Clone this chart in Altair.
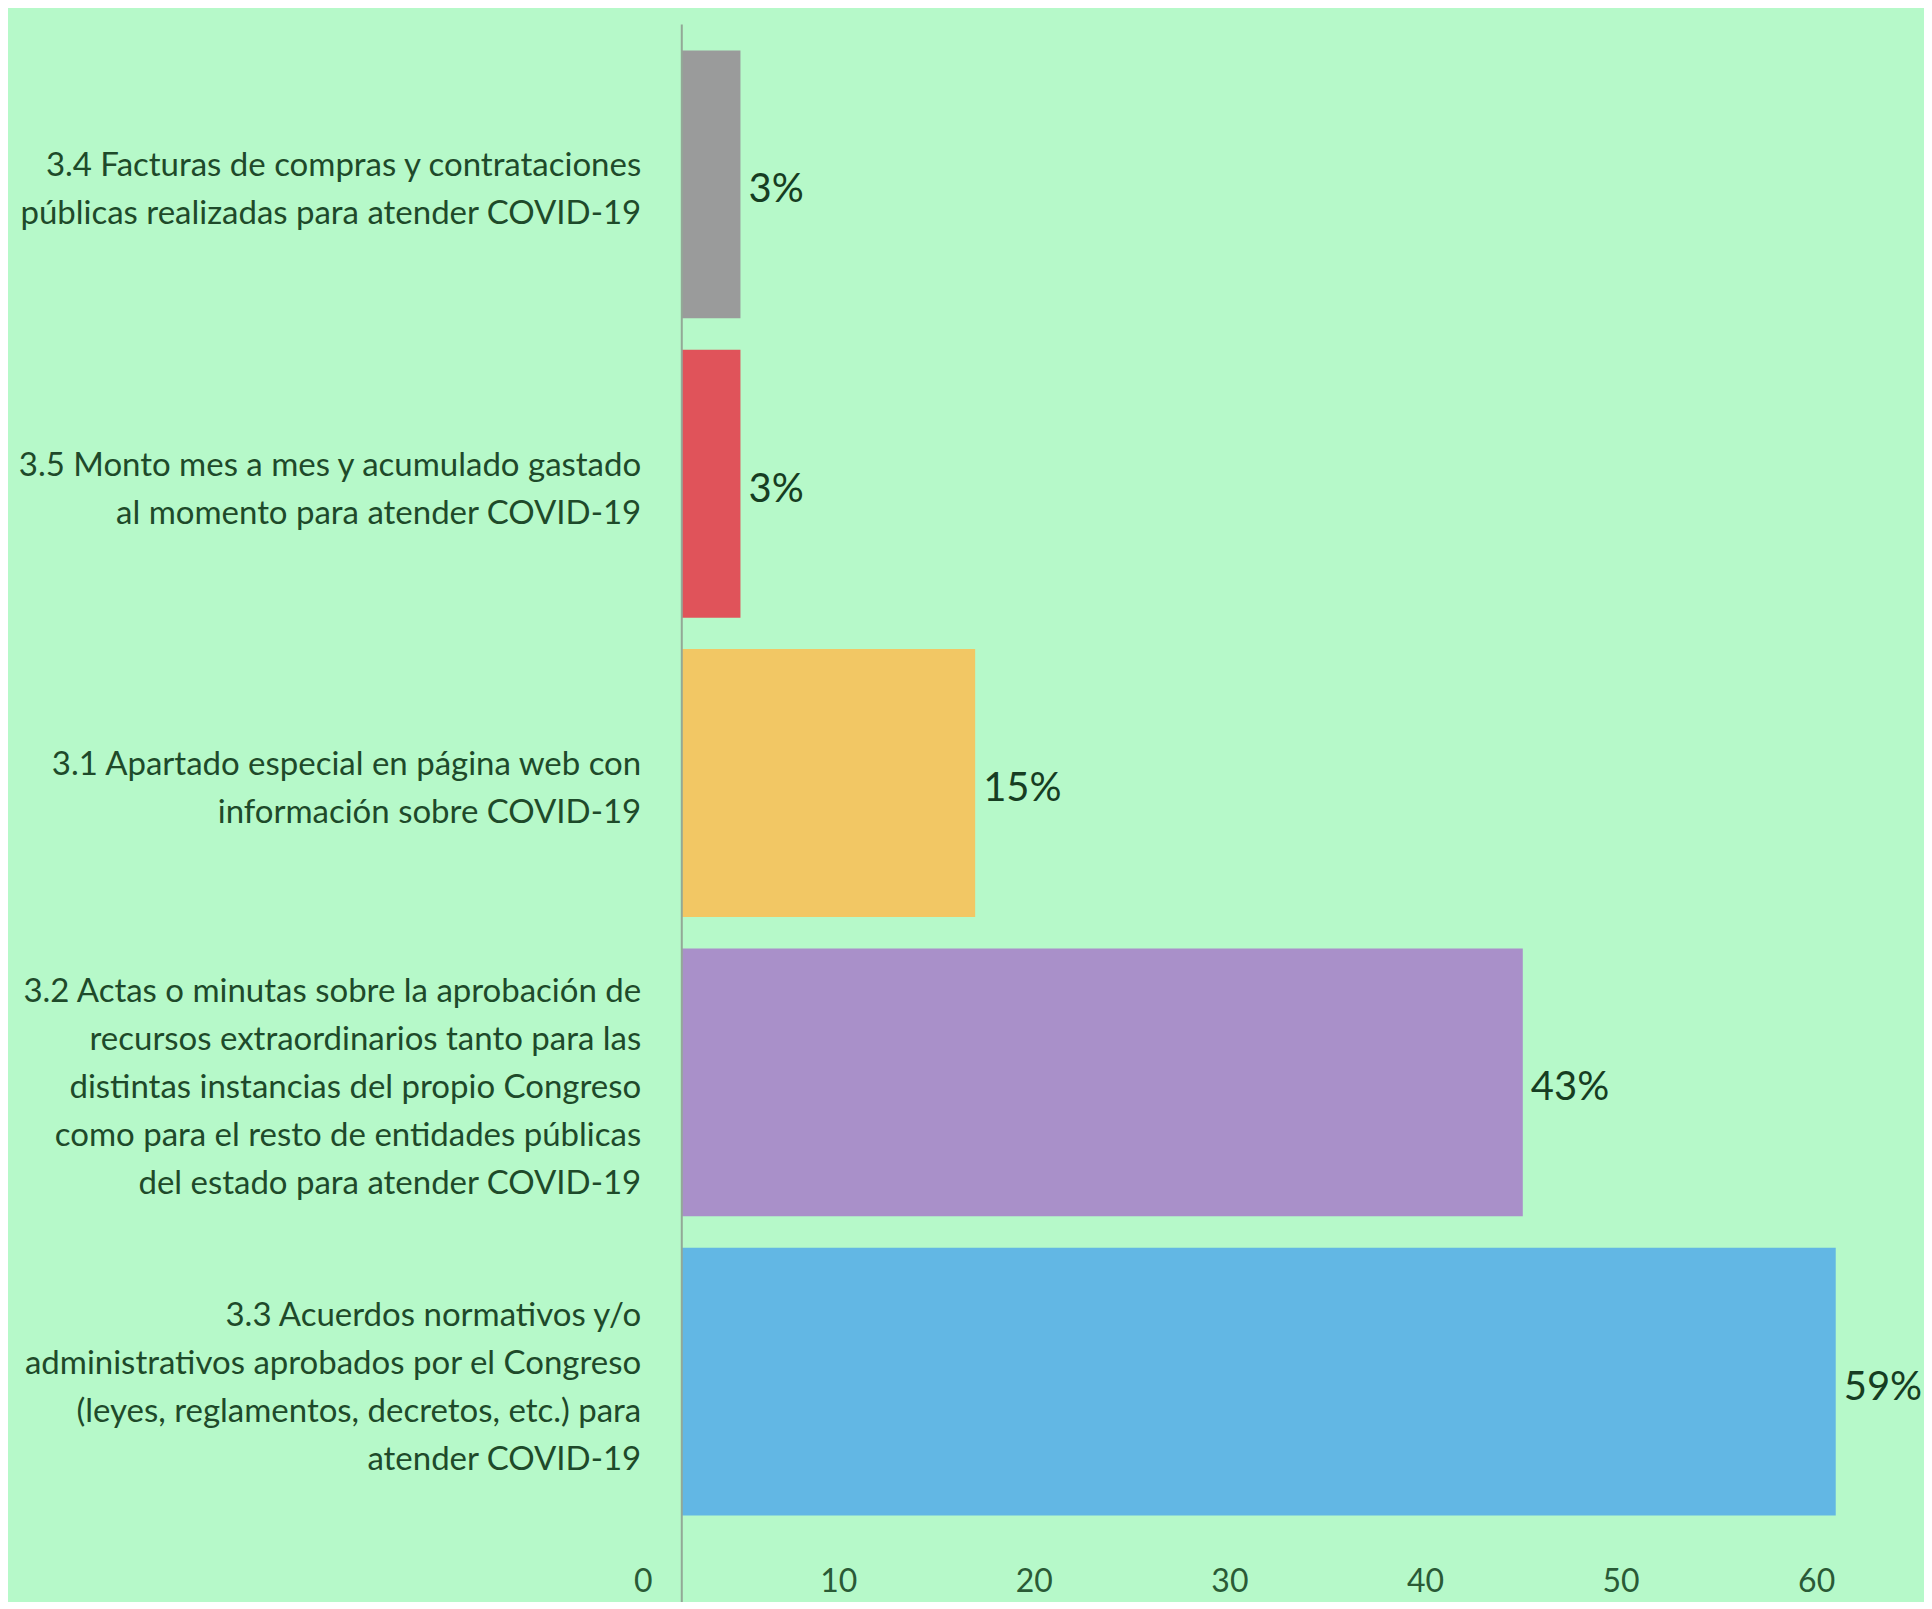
import altair as alt
import pandas as pd

categories = [
    "3.4 Facturas de compras y contrataciones|públicas realizadas para atender COVID-19",
    "3.5 Monto mes a mes y acumulado gastado|al momento para atender COVID-19",
    "3.1 Apartado especial en página web con|información sobre COVID-19",
    "3.2 Actas o minutas sobre la aprobación de|recursos extraordinarios tanto para las|distintas instancias del propio Congreso|como para el resto de entidades públicas|del estado para atender COVID-19",
    "3.3 Acuerdos normativos y/o|administrativos aprobados por el Congreso|(leyes, reglamentos, decretos, etc.) para\u00a0|atender COVID-19",
]
values = [3, 3, 15, 43, 59]
bar_colors = ["#9a9b9b", "#e0535a", "#f2c764", "#a990c9", "#62b7e4"]
tick_values = [-2, 8, 18, 28, 38, 48, 58]

df = pd.DataFrame({
    "cat": categories,
    "value": values,
    "pct": [f"{v}%" for v in values],
})

FONT = "Lato"
BG = "#b6f9c9"
LINE_H = 48

xscale = alt.Scale(domain=[-2, 62.9], nice=False, zero=False)
yscale = alt.Scale(domain=categories, paddingInner=0.105, paddingOuter=0.087)

y_axis = alt.Axis(
    title=None,
    domain=False,
    ticks=False,
    grid=False,
    labelExpr="split(datum.label, '|')",
    labelFont=FONT,
    labelFontSize=33,
    labelColor="#1e4a2a",
    labelLineHeight=LINE_H,
    labelPadding=2,
    labelLimit=1000,
    labelAlign="right",
    labelOffset={"expr": f"6 - (length(split(datum.value, '|')) - 1) * {LINE_H / 2}"},
)
x_axis = alt.Axis(
    title=None,
    values=tick_values,
    labelExpr="format(datum.value + 2, 'd')",
    domain=False,
    ticks=False,
    grid=False,
    labelFont=FONT,
    labelFontSize=32,
    labelColor="#2a5a36",
    labelPadding=25,
    labelFlush=False,
    labelOverlap=False,
)

y_enc = alt.Y("cat:N", sort=None, scale=yscale, axis=y_axis)
x_enc = alt.X("value:Q", scale=xscale, axis=x_axis)

base = alt.Chart(df)

bars = base.mark_bar().encode(
    y=y_enc,
    x=x_enc,
    color=alt.Color("cat:N", scale=alt.Scale(domain=categories, range=bar_colors), legend=None),
)

rule = alt.Chart(pd.DataFrame({"z": [0]})).mark_rule(color="#93a897", strokeWidth=2).encode(
    x=alt.X("z:Q", scale=xscale, axis=x_axis),
    y=alt.value(0),
    y2=alt.value(1590),
)

text = base.mark_text(
    align="left", baseline="middle", dx=8, dy=6, font=FONT, fontSize=40, color="#163d22"
).encode(y=y_enc, x=x_enc, text="pct:N")

chart = (
    alt.layer(bars, rule, text)
    .properties(
        width=1270,
        height=1518,
        padding={"left": 635, "top": 16, "right": 12, "bottom": 60},
        autosize=alt.AutoSizeParams(type="none"),
    )
    .configure(background=BG)
    .configure_view(stroke=None)
)

chart.save("out.html", embed_options={"renderer": "svg", "actions": False})
